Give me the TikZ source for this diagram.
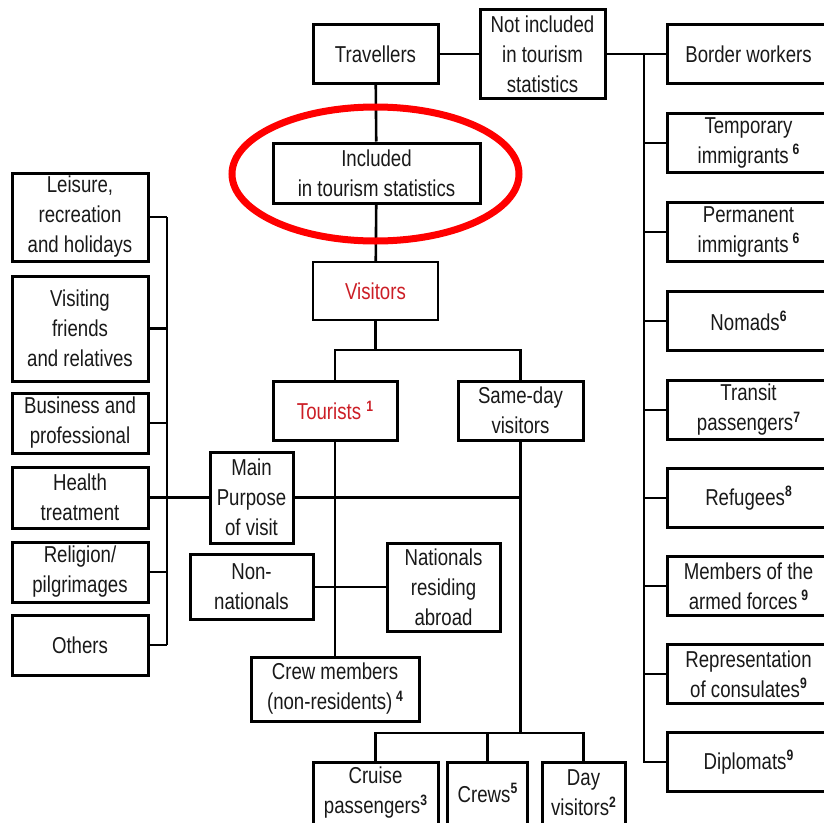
\documentclass[tikz,border=0pt]{standalone}
\usepackage{fontspec}
\setmainfont[FakeStretch=0.81]{Liberation Sans}
\usepackage{xcolor}
\usetikzlibrary{positioning,calc}
\definecolor{visred}{RGB}{204,30,38}
\newcommand{\fn}[1]{\raisebox{0.38em}{\fontsize{15}{15}\selectfont\bfseries #1}}

\begin{document}
\begin{tikzpicture}[x=1pt,y=-1pt,line width=2.6pt,
  box/.style={draw,line width=3pt,fill=white,align=center,inner sep=0pt,
    font=\fontsize{23}{30}\selectfont,text=black!90},
  rbox/.style={box,minimum width=163,minimum height=59},
  lbox/.style={box,minimum width=136,minimum height=60},
  hot/.style={text=visred}]
\useasboundingbox[fill=white] (0,0) rectangle (824,822);
% top row
\node[box,minimum width=125,minimum height=59] (trav) at (375.5,54) {Travellers};
\node[box,minimum width=125,minimum height=89] (notin) at (542.5,54) {Not included\\in tourism\\statistics};
\node[box,minimum width=207,minimum height=60] (incl) at (376.5,173) {Included\\in tourism statistics};
\node[box,hot,minimum width=125,minimum height=58,line width=2.4pt] (vis) at (375.5,291) {Visitors};
% right column: not included
\node[rbox] (border) at (748.5,54) {Border workers};
\node[rbox] (tempimm) at (748.5,143) {Temporary\\immigrants\,\fn{6}};
\node[rbox] (permimm) at (748.5,232) {Permanent\\immigrants\,\fn{6}};
\node[rbox] (nomads) at (748.5,321) {Nomads\fn{6}};
\node[rbox] (transit) at (748.5,410) {Transit\\passengers\fn{7}};
\node[rbox] (refug) at (748.5,498) {Refugees\fn{8}};
\node[rbox] (armed) at (748.5,586) {Members of the\\armed forces\,\fn{9}};
\node[rbox] (consul) at (748.5,674) {Representation\\of consulates\fn{9}};
\node[rbox] (dipl) at (748.5,762) {Diplomats\fn{9}};
\coordinate (rspine) at (644,54);
% visitors split
\node[box,hot,minimum width=124,minimum height=59] (tour) at (335,410.5) {Tourists \fn{1}};
\node[box,minimum width=125,minimum height=59] (sameday) at (520.5,410.5) {Same-day\\visitors};
\coordinate (vfork) at (375.5,350);
% purpose of visit
\node[lbox,minimum height=88] (leis) at (80,217) {Leisure,\\recreation\\and holidays};
\node[lbox,minimum height=105] (vfr) at (80,328.5) {Visiting\\friends\\and relatives};
\node[lbox] (busi) at (80,423) {Business and\\professional};
\node[lbox,minimum height=61] (health) at (80,497.5) {Health\\treatment};
\node[lbox] (relig) at (80,572) {Religion/\\pilgrimages};
\node[lbox] (others) at (80,645) {Others};
\coordinate (lspine) at (167,217);
\node[box,minimum width=83,minimum height=91] (mainp) at (251.5,497.5) {Main\\Purpose\\of visit};
% nationality
\node[box,minimum width=123,minimum height=65] (nonnat) at (251.5,587) {Non-\\nationals};
\node[box,minimum width=113,minimum height=88] (natabr) at (443.5,587) {Nationals\\residing\\abroad};
\node[box,minimum width=168,minimum height=64] (crew) at (335,689) {Crew members\\(non-residents)\,\fn{4}};
% same-day visitors
\node[box,minimum width=125,minimum height=62] (cruise) at (375.5,793) {Cruise\\passengers\fn{3}};
\node[box,minimum width=80,minimum height=62] (crews) at (487.5,793) {Crews\fn{5}};
\node[box,minimum width=83,minimum height=62] (dayv) at (583.5,793) {Day\\visitors\fn{2}};
\coordinate (dfork) at (520.5,733);
% connectors
\draw (trav) -- (notin); \draw (notin) -- (border); \draw (rspine) |- (dipl.west);
\foreach \b in {tempimm,permimm,nomads,transit,refug,armed,consul} \draw (\b.west) -- (\b.west -| rspine);
\draw (trav) -- (incl); \draw (incl) -- (vis); \draw (vis) -- (vfork);
\draw (tour.north) |- (vfork) -| (sameday.north);
\draw (lspine) -- (lspine |- others.east);
\foreach \b in {leis,vfr,busi,relig,others} \draw (\b.east) -- (\b.east -| lspine);
\draw (health) -- (mainp); \draw (mainp.east) -- (mainp.east -| sameday.south);
\draw (tour) -- (crew); \draw (nonnat) -- (natabr);
\draw (sameday) -- (dfork); \draw (cruise.north) |- (dfork) -| (dayv.north); \draw (crews.north) -- (crews.north |- dfork);
% highlight
\draw[red,line width=7pt] (375.5,174) ellipse [x radius=143.5,y radius=67];
\end{tikzpicture}
\end{document}
